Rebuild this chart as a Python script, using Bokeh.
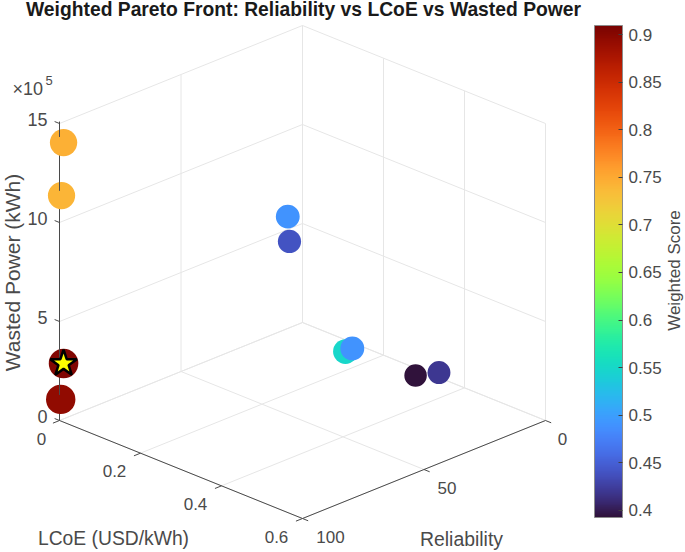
from bokeh.plotting import figure, ColumnDataSource
from bokeh.embed import file_html
from bokeh.resources import INLINE
from bokeh.models import ColorBar, LinearColorMapper, FixedTicker, NumeralTickFormatter
from bokeh.palettes import Turbo256
from bokeh.core.properties import value

# ---- data
lcoe = [0.01, 0.005, 0.02, 0.02, 0.148, 0.147, 0.308, 0.343, 0.003, 0.01]
reliability = [100, 100, 9.4, 8.7, 7.0, 4.0, 4.8, 1.0, 100, 100]
wasted = [1.412e6, 1.140e6, 5.98e5, 4.69e5, 1.0e4, 1.0e4, 1.0e4, 3.5e4, 1.09e5, 2.96e5]
score = [0.745, 0.74, 0.49, 0.44, 0.55, 0.49, 0.39, 0.42, 0.895, 0.905]
best_lcoe = [0.01]
best_reliability = [100]
best_wasted = [2.96e5]

lcoe_ticks = [0, 0.2, 0.4, 0.6]
lcoe_labels = ["0", "0.2", "0.4", "0.6"]
rel_ticks = [0, 50, 100]
rel_labels = ["0", "50", "100"]
waste_ticks = [0, 5e5, 10e5, 15e5]
waste_labels = ["0", "5", "10", "15"]
cbar_ticks = [0.4, 0.45, 0.5, 0.55, 0.6, 0.65, 0.7, 0.75, 0.8, 0.85, 0.9]
cbar_low, cbar_high = 0.3926, 0.9095

TITLE = "Weighted Pareto Front: Reliability vs LCoE vs Wasted Power"
FONT = "Liberation Sans"
TXT = "#4a4a4a"
AX = "#4a4a4a"
GRID = "#e6e6e6"


def px(L, R):
    return 302 + L / 0.6 * 243 - R / 100 * 243


def py(L, R, Z):
    return 322 + L / 0.6 * 98 + R / 100 * 98 - Z / 1.5e6 * 297


def seg(a, b):
    return (px(a[0], a[1]), py(*a), px(b[0], b[1]), py(*b))


p = figure(width=685, height=552, x_range=(0, 685), y_range=(552, 0),
           output_backend="svg", toolbar_location=None, min_border=0)
p.axis.visible = False
p.grid.visible = False
p.outline_line_color = None

Lmax, Rmax, Zmax = lcoe_ticks[-1], rel_ticks[-1], waste_ticks[-1]

grid = []
for z in waste_ticks:
    grid.append(seg((0, 0, z), (0, Rmax, z)))
    grid.append(seg((0, 0, z), (Lmax, 0, z)))
for r in rel_ticks:
    grid.append(seg((0, r, 0), (0, r, Zmax)))
    grid.append(seg((0, r, 0), (Lmax, r, 0)))
for l in lcoe_ticks:
    grid.append(seg((l, 0, 0), (l, 0, Zmax)))
    grid.append(seg((l, 0, 0), (l, Rmax, 0)))
g = list(zip(*grid))
p.segment(g[0], g[1], g[2], g[3], line_color=GRID, line_width=1)

axes = [seg((0, Rmax, 0), (0, Rmax, Zmax)),
        seg((0, Rmax, 0), (Lmax, Rmax, 0)),
        seg((Lmax, Rmax, 0), (Lmax, 0, 0))]
for z in waste_ticks:
    axes.append(seg((0, Rmax, z), (-0.012, Rmax, z)))
for l in lcoe_ticks:
    axes.append(seg((l, Rmax, 0), (l, Rmax + 2.7, 0)))
for r in rel_ticks:
    axes.append(seg((Lmax, r, 0), (Lmax + 0.014, r, 0)))
a = list(zip(*axes))
p.segment(a[0], a[1], a[2], a[3], line_color=AX, line_width=1)

mapper = LinearColorMapper(palette=Turbo256, low=cbar_low, high=cbar_high)
src = ColumnDataSource(dict(
    x=[px(l, r) for l, r in zip(lcoe, reliability)],
    y=[py(l, r, z) for l, r, z in zip(lcoe, reliability, wasted)],
    s=[22.5 + (v - 0.39) * 13.7 for v in score],
    score=score))
p.scatter("x", "y", source=src, size="s", marker="circle",
          fill_color={"field": "score", "transform": mapper}, line_color=None)

# the axis line passes over the upper part of the markers that sit on it
over = []
for l, r, z, v in zip(lcoe, reliability, wasted, score):
    if r == Rmax:
        over.append(seg((0, Rmax, z + 2e4), (0, Rmax, z + (22 + (v - 0.39) * 13.7) / 2 * 1.5e6 / 297 + 3e4)))
o = list(zip(*over))
p.segment(o[0], o[1], o[2], o[3], line_color=AX, line_width=1)

p.scatter([px(best_lcoe[0], best_reliability[0])],
          [py(best_lcoe[0], best_reliability[0], best_wasted[0])],
          size=28, marker="star", fill_color="#ffff00", line_color="#000000", line_width=2.5)


def texts(xs, ys, labels, size="17px", color=TXT, align="center", base="middle", angle=0, style="normal"):
    p.text(xs, ys, text=labels, text_font=value(FONT), text_font_size=value(size),
           text_color=color, text_align=align, text_baseline=base, angle=angle,
           text_font_style=style)


texts([px(0, Rmax) - 12] * 4,
      [py(0, Rmax, z) - 4 for z in waste_ticks], waste_labels, size="18px", align="right")
texts([px(l, Rmax) + (-18 if l == 0 else -26) for l in lcoe_ticks],
      [py(l, Rmax, 0) + 18 for l in lcoe_ticks], lcoe_labels)
rel_dx = {0: 17, 50: 23, 100: 28}
texts([px(Lmax, r) + rel_dx[r] for r in rel_ticks],
      [py(Lmax, r, 0) + 18 for r in rel_ticks], rel_labels)

texts([12], [88], ["\u00d710"], size="18px", align="left")
texts([45], [80], ["5"], size="13px", align="left")

texts([113], [538], ["LCoE (USD/kWh)"], size="19.3px")
texts([461], [538], ["Reliability"], size="19.4px")
texts([12], [272], ["Wasted Power (kWh)"], size="21px", angle=1.5708)
texts([674], [270], ["Weighted Score"], size="17px", angle=1.5708)
texts([303], [9], [TITLE], size="19.3px", color="#1a1a1a", style="bold")

cb = ColorBar(color_mapper=mapper, ticker=FixedTicker(ticks=cbar_ticks),
              formatter=NumeralTickFormatter(format="0.[00]"),
              width=28, height=492, location=(594, 35), padding=0, margin=0,
              major_tick_in=4, major_tick_out=0, major_tick_line_color="#404040",
              minor_tick_line_color=None, bar_line_color="#8c8c8c",
              major_label_text_font=FONT, major_label_text_font_size="17px",
              major_label_text_color=TXT, label_standoff=6,
              background_fill_color=None, border_line_color=None)
p.add_layout(cb, "center")

open("out.html", "w").write(file_html(p, INLINE))
